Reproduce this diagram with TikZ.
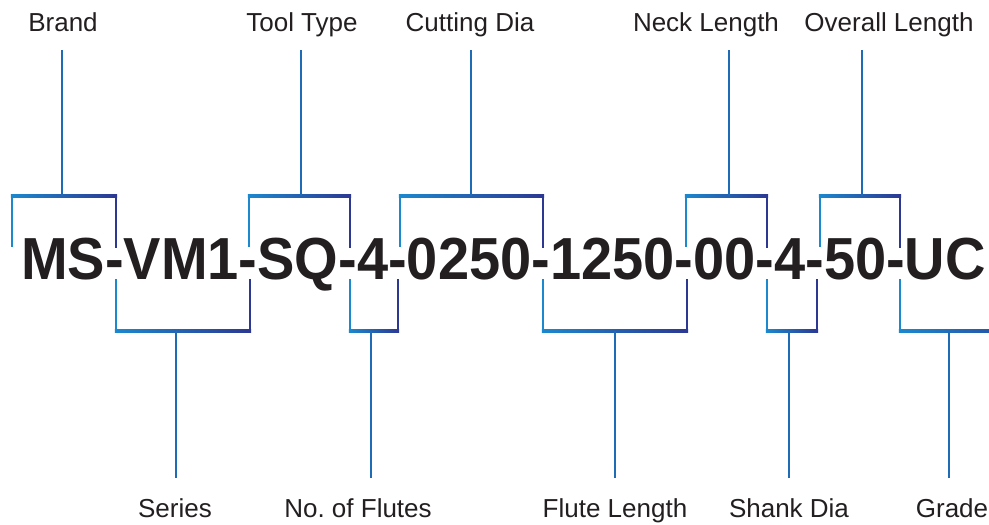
\documentclass[tikz,border=0pt]{standalone}
\usepackage{fontspec}
\setmainfont{Liberation Sans}
\frenchspacing
\definecolor{lblue}{RGB}{28,136,206}
\definecolor{dblue}{RGB}{44,56,146}
\definecolor{sblue}{RGB}{30,108,182}
\definecolor{ink}{RGB}{35,31,32}
\newcommand{\brTop}[3]{%
  \draw[legL] (#1,247) -- (#1,196);
  \draw[legD] (#2,196) -- (#2,248);
  \shade[left color=lblue, right color=dblue] (#1-1.2,194.8) rectangle (#2+1.2,197.2);
  \coordinate (#3) at ({(#1+#2)/2},196);
}
\newcommand{\brBot}[3]{%
  \draw[legL] (#1,279) -- (#1,331);
  \draw[legD] (#2,279) -- (#2,331);
  \shade[left color=lblue, right color=dblue] (#1-1.2,329.8) rectangle (#2+1.2,332.2);
}
\begin{document}
\begin{tikzpicture}[x=1pt,y=-1pt,
  legL/.style={draw=lblue,line width=2.4pt},
  legD/.style={draw=dblue,line width=2.4pt},
  stem/.style={draw=sblue,line width=2.4pt},
  lab/.style={font=\fontsize{26}{30}\selectfont,text=ink,inner sep=0pt,anchor=base}]
\useasboundingbox (0,0) rectangle (989,525);
\fill[white] (0,0) rectangle (989,525);
% main code
\node[anchor=base west,inner sep=0pt,text=ink] (code) at (21,279.5)
  {\scalebox{1}[1.06]{\fontsize{56}{60}\selectfont\bfseries MS-VM1-SQ-4-0250-1250-00-4-50-UC}};
% labels
\node[lab] (brand) at (63,31.5) {Brand};
\node[lab] (tool) at (302,31.5) {Tool Type};
\node[lab] (cdia) at (470,31.5) {Cutting Dia};
\node[lab] (neck) at (706,31.5) {Neck Length};
\node[lab] (overall) at (889,31.5) {Overall Length};
\node[lab] (series) at (175,517) {Series};
\node[lab] (flutes) at (358,517) {No.\ of Flutes};
\node[lab] (flen) at (615,517) {Flute Length};
\node[lab] (shank) at (789,517) {Shank Dia};
\node[lab] (grade) at (952,517) {Grade};
% brackets top
\brTop{12}{116}{bt1}
\brTop{249}{350}{bt2}
\brTop{400}{543}{bt3}
\brTop{686}{767}{bt4}
\brTop{820}{900}{bt5}
% brackets bottom
\brBot{116}{250}{bb1}
\brBot{350}{398}{bb2}
\brBot{543}{687}{bb3}
\brBot{767}{817}{bb4}
\draw[legL] (900,279) -- (900,331);
\shade[left color=lblue, right color=dblue!60!lblue] (898.8,329.8) rectangle (990,332.2);
% stems
\coordinate (s1a) at (62,196); \coordinate (s1b) at (62,50);
\coordinate (s2a) at (301,196); \coordinate (s2b) at (301,50);
\coordinate (s3a) at (471,196); \coordinate (s3b) at (471,50);
\coordinate (s4a) at (729,196); \coordinate (s4b) at (729,50);
\coordinate (s5a) at (862,196); \coordinate (s5b) at (862,50);
\coordinate (s6a) at (176,331); \coordinate (s6b) at (176,478);
\coordinate (s7a) at (371,331); \coordinate (s7b) at (371,478);
\coordinate (s8a) at (615,331); \coordinate (s8b) at (615,478);
\coordinate (s9a) at (789,331); \coordinate (s9b) at (789,478);
\coordinate (s10a) at (949,331); \coordinate (s10b) at (949,478);
\foreach \i in {1,...,10} { \draw[stem] (s\i a) -- (s\i b); }
\end{tikzpicture}
\end{document}
